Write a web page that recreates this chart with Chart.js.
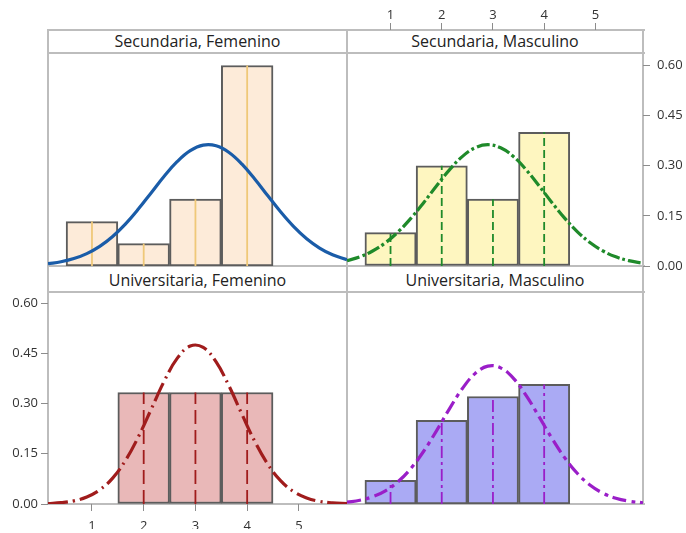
<!DOCTYPE html>
<html>
<head>
<meta charset="utf-8">
<script src="https://cdn.jsdelivr.net/npm/chart.js@4.4.1/dist/chart.umd.min.js"></script>
<style>
    body { margin: 0; background: #fff; }
    #wrap { position: relative; width: 686px; height: 533px; overflow: hidden; font-family: "Open Sans", sans-serif; }
    #wrap canvas { position: absolute; left: 0; top: 0; }
    .ln { position: absolute; background: #bdbdbd; }
    .strip { position: absolute; text-align: center; font-size: 16px; color: #222; white-space: nowrap; }
</style>
</head>
<body>
<div id="wrap">
    <!-- marco de los paneles -->
    <div class="ln" style="left:47px;top:29px;width:598px;height:2px"></div>
    <div class="ln" style="left:47px;top:52px;width:598px;height:2px"></div>
    <div class="ln" style="left:47px;top:265px;width:598px;height:2px"></div>
    <div class="ln" style="left:47px;top:291px;width:598px;height:2px"></div>
    <div class="ln" style="left:47px;top:503px;width:598px;height:2px"></div>
    <div class="ln" style="left:47px;top:29px;width:2px;height:476px"></div>
    <div class="ln" style="left:346px;top:29px;width:2px;height:476px"></div>
    <div class="ln" style="left:642px;top:29px;width:2px;height:476px"></div>

    <div class="strip" style="left:49px;top:31px;width:297px;height:21px;line-height:21px">Secundaria, Femenino</div>
    <div class="strip" style="left:348px;top:31px;width:294px;height:21px;line-height:21px">Secundaria, Masculino</div>
    <div class="strip" style="left:49px;top:268px;width:297px;height:24px;line-height:24px">Universitaria, Femenino</div>
    <div class="strip" style="left:348px;top:268px;width:294px;height:24px;line-height:24px">Universitaria, Masculino</div>

    <canvas id="secFemChart" width="686" height="533"></canvas>
    <canvas id="secMascChart" width="686" height="533"></canvas>
    <canvas id="uniFemChart" width="686" height="533"></canvas>
    <canvas id="uniMascChart" width="686" height="533"></canvas>
</div>
<script>
// Datos: centros de las clases y proporciones de cada panel
const binCenters = [1, 2, 3, 4];
const secFemValues = [0.133, 0.067, 0.2, 0.6];
const secMascValues = [0.1, 0.3, 0.2, 0.4];
const uniFemValues = [0, 0.333, 0.333, 0.333];
const uniMascValues = [0.071, 0.25, 0.321, 0.357];

// Marcas de los ejes
const xTicks = [1, 2, 3, 4, 5];
const yTicks = [0, 0.15, 0.3, 0.45, 0.6];

// Curvas normales ajustadas
const curveX = [0.15, 0.4, 0.65, 0.9, 1.15, 1.4, 1.65, 1.9, 2.15, 2.4, 2.65, 2.9,
    3.15, 3.4, 3.65, 3.9, 4.15, 4.4, 4.65, 4.9, 5.15, 5.4, 5.65, 5.93];
const secFemCurve = [0.0068, 0.0127, 0.0222, 0.0371, 0.0587, 0.0883, 0.126, 0.171, 0.2202, 0.2693, 0.3128, 0.3451,
    0.3615, 0.3596, 0.3398, 0.3048, 0.2597, 0.2101, 0.1615, 0.1179, 0.0816, 0.0538, 0.0336, 0.0188];
const secMascCurve = [0.016, 0.0274, 0.0449, 0.0695, 0.1024, 0.1432, 0.1903, 0.2401, 0.2877, 0.3274, 0.3537, 0.363,
    0.3537, 0.3274, 0.2877, 0.2401, 0.1903, 0.1432, 0.1024, 0.0695, 0.0449, 0.0274, 0.016, 0.0083];
const uniFemCurve = [0.0015, 0.0039, 0.0095, 0.0209, 0.042, 0.0774, 0.1306, 0.2015, 0.2847, 0.368, 0.4355, 0.4716,
    0.4675, 0.4241, 0.3521, 0.2676, 0.1861, 0.1185, 0.069, 0.0368, 0.018, 0.008, 0.0033, 0.0011];
const uniMascCurve = [0.0054, 0.0112, 0.0217, 0.0395, 0.0671, 0.1066, 0.1582, 0.2193, 0.2842, 0.3441, 0.3893, 0.4116,
    0.4066, 0.3753, 0.3237, 0.2609, 0.1965, 0.1383, 0.091, 0.0559, 0.0321, 0.0172, 0.0086, 0.0037];

const tickFont = { family: 'Open Sans', size: 13 };

// Construye un panel (histograma + líneas centrales + curva normal)
function makePanel(canvasId, p) {
    const datasets = [];

    datasets.push({
        type: 'line',
        data: curveX.map((x, i) => ({ x: x, y: p.curve[i] })),
        borderColor: p.curveColor,
        borderWidth: 3.2,
        borderDash: p.curveDash,
        pointRadius: 0,
        tension: 0.4,
        fill: false,
        order: 0
    });

    binCenters.forEach((c, i) => {
        datasets.push({
            type: 'line',
            data: [{ x: c, y: 0 }, { x: c, y: p.values[i] }],
            borderColor: p.midColor,
            borderWidth: 1.8,
            borderDash: p.midDash,
            pointRadius: 0,
            fill: false,
            order: 1
        });
    });

    datasets.push({
        type: 'bar',
        data: binCenters.map((c, i) => ({ x: c, y: p.values[i] })),
        backgroundColor: p.fill,
        borderColor: '#5c5c5c',
        borderWidth: 2,
        borderSkipped: false,
        barPercentage: 1,
        categoryPercentage: 1,
        order: 2
    });

    const config = {
        type: 'bar',
        data: { datasets: datasets },
        options: {
            responsive: false,
            animation: false,
            events: [],
            layout: { autoPadding: false, padding: p.padding },
            plugins: { legend: { display: false }, tooltip: { enabled: false } },
            scales: {
                x: {
                    type: 'linear',
                    min: 0.15,
                    max: 5.93,
                    offset: false,
                    display: p.showX,
                    position: p.xPos,
                    afterBuildTicks: s => { s.ticks = xTicks.map(v => ({ value: v })); },
                    afterFit: s => { if (p.showX) s.height = p.xHeight; },
                    grid: { offset: false, drawOnChartArea: false, tickLength: 7, color: '#8c8c8c' },
                    border: { display: false },
                    ticks: { font: tickFont, color: '#333', padding: p.xPad, callback: v => String(v) }
                },
                y: {
                    type: 'linear',
                    min: 0,
                    max: p.yMax,
                    display: p.showY,
                    position: p.yPos,
                    afterBuildTicks: s => { s.ticks = yTicks.map(v => ({ value: v })); },
                    afterFit: s => { if (p.showY) s.width = 40; },
                    grid: { offset: false, drawOnChartArea: false, tickLength: 7, color: '#8c8c8c' },
                    border: { display: false },
                    ticks: { font: tickFont, color: '#333', padding: p.yPad, callback: v => v.toFixed(2) }
                }
            }
        }
    };

    return new Chart(document.getElementById(canvasId).getContext('2d'), config);
}

makePanel('secFemChart', {
    values: secFemValues, curve: secFemCurve,
    fill: '#fdebd9', midColor: '#efc878', midDash: [],
    curveColor: '#1a5ca8', curveDash: [],
    showX: false, showY: false, xPos: 'bottom', yPos: 'left', yMax: 0.6374,
    padding: { left: 48, top: 53, right: 339, bottom: 267 }
});

makePanel('secMascChart', {
    values: secMascValues, curve: secMascCurve,
    fill: '#fef6c0', midColor: '#1f8a2a', midDash: [8, 4],
    curveColor: '#1f8a2a', curveDash: [13, 3, 3, 3],
    showX: true, showY: true, xPos: 'top', yPos: 'right', yMax: 0.7062,
    xHeight: 30, xPad: 0, yPad: 7,
    padding: { left: 347, top: 0, right: 3, bottom: 267 }
});

makePanel('uniFemChart', {
    values: uniFemValues, curve: uniFemCurve,
    fill: '#e9b8b8', midColor: '#a01c1c', midDash: [14, 6],
    curveColor: '#a01c1c', curveDash: [20, 5, 2, 5],
    showX: true, showY: true, xPos: 'bottom', yPos: 'left', yMax: 0.633,
    xHeight: 25, xPad: 7, yPad: 3,
    padding: { left: 8, top: 292, right: 339, bottom: 4 }
});

makePanel('uniMascChart', {
    values: uniMascValues, curve: uniMascCurve,
    fill: '#aaaaf4', midColor: '#9a1ec8', midDash: [12, 4, 3, 4],
    curveColor: '#9a1ec8', curveDash: [14, 5, 4, 5],
    showX: false, showY: false, xPos: 'bottom', yPos: 'left', yMax: 0.633,
    padding: { left: 347, top: 292, right: 43, bottom: 29 }
});
</script>
</body>
</html>
